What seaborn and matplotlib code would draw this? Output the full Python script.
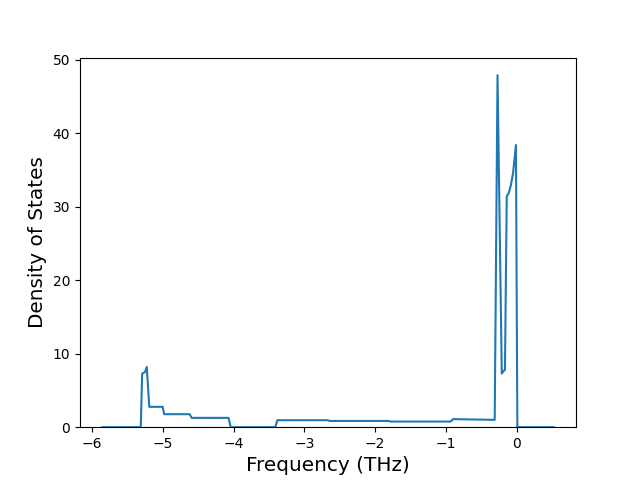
import matplotlib
matplotlib.use("Agg")
import matplotlib.pyplot as plt
import seaborn as sns
import pandas as pd

# frequency (THz) and density of states
freq = [-5.85, -5.31, -5.29, -5.25, -5.225, -5.19, -5.00, -4.98, -4.62, -4.59,
        -4.07, -4.04, -3.41, -3.38, -2.67, -2.64, -1.81, -1.78, -0.93, -0.90,
        -0.31, -0.27, -0.21, -0.19, -0.165, -0.14, -0.11, -0.08, -0.05, -0.01,
        0.01, 0.52]
dos = [0.0, 0.0, 7.3, 7.5, 8.2, 2.77, 2.77, 1.77, 1.77, 1.27,
       1.27, 0.0, 0.0, 0.95, 0.95, 0.85, 0.85, 0.77, 0.77, 1.1,
       1.0, 47.9, 7.3, 7.6, 7.8, 31.4, 31.9, 33.0, 34.6, 38.4,
       0.0, 0.0]

df = pd.DataFrame({"freq": freq, "dos": dos})

fig, ax = plt.subplots(figsize=(6.4, 4.8), dpi=100)
sns.lineplot(data=df, x="freq", y="dos", ax=ax, color="#1f77b4", sort=False)
ax.set_ylim(bottom=0)
ax.set_xlabel("Frequency (THz)", fontsize="x-large")
ax.set_ylabel("Density of States", fontsize="x-large")
fig.savefig("out.png", dpi=100)
